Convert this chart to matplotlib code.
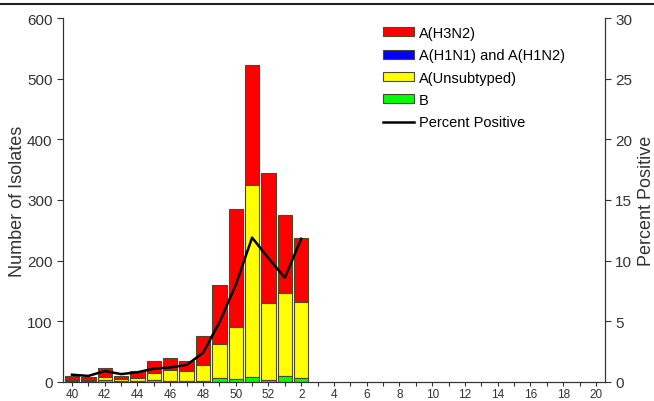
import matplotlib.pyplot as plt
import numpy as np
from matplotlib.lines import Line2D

plt.rcParams['font.family'] = ['Liberation Sans', 'DejaVu Sans']

# surveillance weeks 40..52 then 1..20
weeks = list(range(40, 53)) + list(range(1, 21))
tick_labels = [str(w) if w % 2 == 0 else '' for w in weeks]

# counts per week (only weeks 40 .. 2 have data)
b_count = [1, 1, 4, 1, 2, 3, 1, 1, 1, 7, 5, 8, 3, 10, 6]
unsub_count = [3, 2, 4, 4, 4, 12, 18, 17, 27, 55, 85, 317, 127, 137, 126]
h1_count = [0, 0, 0, 0, 0, 0, 0, 0, 0, 0, 0, 0, 0, 0, 0]
h3n2_count = [6, 5, 15, 5, 12, 20, 20, 17, 47, 98, 195, 197, 215, 129, 106]
pct_positive = [0.6, 0.5, 0.9, 0.65, 0.8, 1.1, 1.2, 1.4, 2.4, 4.9, 8.0, 11.9, 10.2, 8.6, 11.8]

n = len(b_count)
ind = np.arange(len(weeks))
x = ind[:n]

fig = plt.figure(figsize=(6.54, 4.02), dpi=100)
ax = fig.add_axes([0.0963, 0.0473, 0.8287, 0.9054])

edge = '#4a4a2a'
width = 0.88
b = np.array(b_count)
u = np.array(unsub_count)
h1 = np.array(h1_count)
h3 = np.array(h3n2_count)

r_h3 = ax.bar(x, h3, width, bottom=b + u + h1, color='#ff0000', edgecolor=edge, linewidth=0.8)
r_h1 = ax.bar(x, h1, width, bottom=b + u, color='#0000ff', edgecolor=edge, linewidth=0.8)
r_u = ax.bar(x, u, width, bottom=b, color='#ffff00', edgecolor=edge, linewidth=0.8)
r_b = ax.bar(x, b, width, color='#00ff00', edgecolor=edge, linewidth=0.8)

ax.set_xlim(-0.55, len(weeks) - 0.45)
ax.set_ylim(0, 600)
ax.set_yticks(range(0, 601, 100))
ax.set_xticks(ind)
ax.set_xticklabels(tick_labels, fontsize=8.5)
ax.tick_params(axis='y', direction='out', length=4, labelsize=11, colors='#333333')
ax.tick_params(axis='x', direction='out', length=3, pad=1, colors='#333333')
ax.set_ylabel('Number of Isolates', fontsize=13, color='#333333', labelpad=1)
ax.spines['top'].set_visible(False)
for s in ['left', 'bottom', 'right']:
    ax.spines[s].set_color('#333333')

ax2 = ax.twinx()
line, = ax2.plot(x, pct_positive, color='black', linewidth=1.8)
ax2.set_ylim(0, 30)
ax2.set_yticks(range(0, 31, 5))
ax2.tick_params(axis='y', direction='out', length=4, labelsize=11, colors='#333333')
ax2.set_ylabel('Percent Positive', fontsize=13, color='#333333', labelpad=4)
ax2.spines['top'].set_visible(False)
for s in ['left', 'bottom', 'right']:
    ax2.spines[s].set_color('#333333')

ax2.legend((r_h3[0], r_h1[0], r_u[0], r_b[0], line),
           ('A(H3N2)', 'A(H1N1) and A(H1N2)', 'A(Unsubtyped)', 'B', 'Percent Positive'),
           loc='upper left', bbox_to_anchor=(0.567, 1.014), frameon=False, fontsize=10.5,
           handlelength=2.1, handleheight=0.55, labelspacing=0.57, handletextpad=0.35)

# rule under the (cropped) title
fig.add_artist(Line2D([0, 1], [1 - 5 / 402, 1 - 5 / 402], color='#222222', linewidth=1.5))

fig.savefig('out.png', dpi=100)
